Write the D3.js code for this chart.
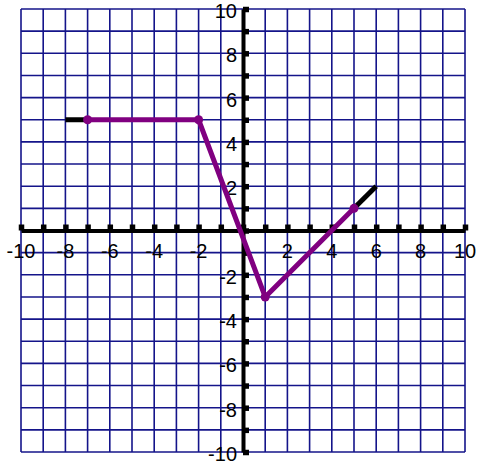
<!DOCTYPE html>
<html>
<head>
<meta charset="utf-8">
<style>
  body { margin: 0; background: #fff; font-family: Arial, "Liberation Sans", sans-serif; }
  svg { display: block; }
</style>
<script src="https://cdn.jsdelivr.net/npm/d3@7"></script>
</head>
<body>
<svg id="chart"></svg>
<script>
// grid range and tick labels
let gridValues = d3.range(-10, 11)
let labelValues = [-10, -8, -6, -4, -2, 2, 4, 6, 8, 10]

// black extension segments
let leftTail = [{x: -8, y: 5}, {x: -7, y: 5}]
let rightTail = [{x: 5, y: 1}, {x: 6, y: 2}]
// purple graph with vertices
let graphPts = [{x: -7, y: 5}, {x: -2, y: 5}, {x: 1, y: -3}, {x: 5, y: 1}]

let width = 477
let height = 465
let svg = d3.select("#chart").attr("width", width).attr("height", height)

let xScale = d3.scaleLinear().domain([-10, 10]).range([21, 465])
let yScale = d3.scaleLinear().domain([-10, 10]).range([452, 9])

let gridColor = "#14148a"

// grid
let grid = svg.append("g")
grid.selectAll(".vline").data(gridValues).enter().append("line")
    .attr("x1", d => xScale(d)).attr("x2", d => xScale(d))
    .attr("y1", yScale(10)).attr("y2", yScale(-10))
    .attr("stroke", gridColor).attr("stroke-width", 1.6)
grid.selectAll(".hline").data(gridValues).enter().append("line")
    .attr("y1", d => yScale(d)).attr("y2", d => yScale(d))
    .attr("x1", xScale(-10)).attr("x2", xScale(10))
    .attr("stroke", gridColor).attr("stroke-width", 1.6)

// axes
let axisX = d3.axisTop(xScale).tickValues(gridValues).tickSize(6).tickSizeOuter(0).tickFormat("")
let gx = svg.append("g").attr("transform", `translate(0,${yScale(0)})`).call(axisX)
gx.select(".domain").attr("stroke", "#000").attr("stroke-width", 4)
gx.selectAll(".tick line").attr("stroke", "#000").attr("stroke-width", 5.5)

let axisY = d3.axisRight(yScale).tickValues(gridValues).tickSize(6).tickSizeOuter(0).tickFormat("")
let gy = svg.append("g").attr("transform", `translate(${xScale(0)},0)`).call(axisY)
gy.select(".domain").attr("stroke", "#000").attr("stroke-width", 4)
gy.selectAll(".tick line").attr("stroke", "#000").attr("stroke-width", 5.5)

// labels
svg.append("g").selectAll("text").data(labelValues).enter().append("text")
    .attr("x", d => xScale(d)).attr("y", yScale(0) + 27)
    .attr("text-anchor", "middle")
    .attr("font-size", 20)
    .text(d => d)
svg.append("g").selectAll("text").data(labelValues).enter().append("text")
    .attr("x", xScale(0) - 6).attr("y", d => yScale(d) + 9)
    .attr("text-anchor", "end")
    .attr("font-size", 20)
    .text(d => d)

// graph
let line = d3.line().x(d => xScale(d.x)).y(d => yScale(d.y))
svg.append("path").datum(leftTail).attr("d", line)
    .attr("fill", "none").attr("stroke", "#000").attr("stroke-width", 5)
svg.append("path").datum(rightTail).attr("d", line)
    .attr("fill", "none").attr("stroke", "#000").attr("stroke-width", 5)
svg.append("path").datum(graphPts).attr("d", line)
    .attr("fill", "none").attr("stroke", "#800080").attr("stroke-width", 5)
    .attr("stroke-linejoin", "round")
svg.append("g").selectAll("circle").data(graphPts).enter().append("circle")
    .attr("cx", d => xScale(d.x)).attr("cy", d => yScale(d.y))
    .attr("r", 4.5).attr("fill", "#800080")
</script>
</body>
</html>
